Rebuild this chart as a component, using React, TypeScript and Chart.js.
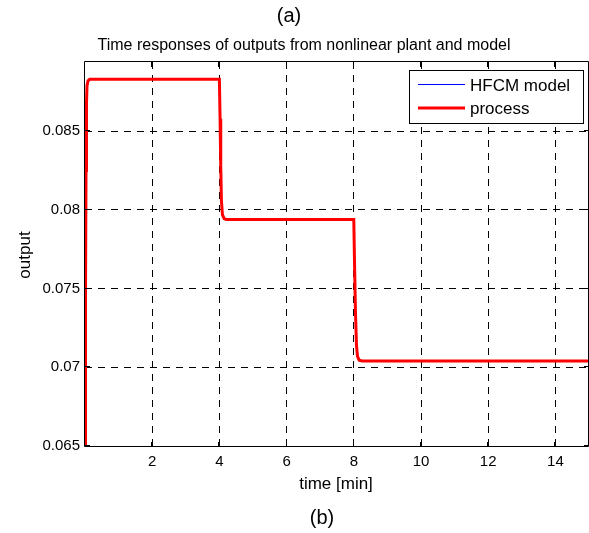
import React, { useEffect, useRef } from "react";
import { Chart, registerables } from "chart.js";

Chart.register(...registerables);

const timeMin = [0, 0.015, 0.03, 0.045, 0.06, 0.09, 0.14, 4.0, 4.02, 4.04, 4.06, 4.09, 4.14, 4.2, 8.0, 8.02, 8.05, 8.08, 8.11, 8.16, 8.25, 15];
const processOut = [0.065, 0.0745, 0.0825, 0.0868, 0.0879, 0.0882, 0.0883, 0.0883, 0.0858, 0.0828, 0.0806, 0.0797, 0.07945, 0.0794, 0.0794, 0.0768, 0.0735, 0.0714, 0.0707, 0.07045, 0.0704, 0.0704];
const modelOut = [0.065, 0.0745, 0.0825, 0.0868, 0.0879, 0.0882, 0.0883, 0.0883, 0.0858, 0.0828, 0.0806, 0.0797, 0.07945, 0.0794, 0.0794, 0.0768, 0.0735, 0.0714, 0.0707, 0.07045, 0.0704, 0.0704];
const xTicks = [2, 4, 6, 8, 10, 12, 14];
const yTicks = [0.065, 0.07, 0.075, 0.08, 0.085];
const seriesNames = ["HFCM model", "process"];

const FONT = "'Liberation Sans', Arial, sans-serif";

const decor = {
  id: "decor",
  afterDraw(chart: any) {
    const { ctx, chartArea } = chart;
    const { left, right, top, bottom } = chartArea;
    const xs = chart.scales.x;
    const ys = chart.scales.y;
    ctx.save();
    // frame
    ctx.strokeStyle = "#000";
    ctx.lineWidth = 1;
    ctx.setLineDash([]);
    ctx.beginPath();
    ctx.rect(Math.round(left) - 0.5, Math.round(top) - 0.5, Math.round(right - left), Math.round(bottom - top));
    ctx.stroke();
    // inward ticks
    const tl = 5;
    ctx.beginPath();
    xTicks.forEach((v) => {
      const px = Math.round(xs.getPixelForValue(v)) - 0.5;
      ctx.moveTo(px, bottom);
      ctx.lineTo(px, bottom - tl);
      ctx.moveTo(px, top);
      ctx.lineTo(px, top + tl);
    });
    yTicks.forEach((v) => {
      const py = Math.round(ys.getPixelForValue(v)) - 0.5;
      ctx.moveTo(left, py);
      ctx.lineTo(left + tl, py);
      ctx.moveTo(right, py);
      ctx.lineTo(right - tl, py);
    });
    ctx.stroke();

    // texts
    ctx.fillStyle = "#000";
    ctx.textAlign = "center";
    ctx.textBaseline = "middle";
    ctx.font = `20px ${FONT}`;
    ctx.fillText("(a)", 289, 16);
    ctx.font = `16px ${FONT}`;
    ctx.fillText("Time responses of outputs from nonlinear plant and model", 304, 46);
    ctx.font = `17px ${FONT}`;
    ctx.fillText("time [min]", 336, 484);
    ctx.font = `20px ${FONT}`;
    ctx.fillText("(b)", 322, 518);
    ctx.save();
    ctx.translate(25, 255);
    ctx.rotate(-Math.PI / 2);
    ctx.font = `17px ${FONT}`;
    ctx.fillText("output", 0, 0);
    ctx.restore();

    // legend
    const lx = 409, ly = 70, lw = 174, lh = 53;
    ctx.fillStyle = "#fff";
    ctx.fillRect(lx, ly, lw, lh);
    ctx.strokeStyle = "#000";
    ctx.lineWidth = 1;
    ctx.strokeRect(lx + 0.5, ly + 0.5, lw, lh);
    const colors = ["#0000ff", "#ff0000"];
    const widths = [1, 3];
    const rowsY = [84.5, 108];
    seriesNames.forEach((name, i) => {
      ctx.strokeStyle = colors[i];
      ctx.lineWidth = widths[i];
      ctx.beginPath();
      ctx.moveTo(418, rowsY[i]);
      ctx.lineTo(465, rowsY[i]);
      ctx.stroke();
      ctx.fillStyle = "#000";
      ctx.textAlign = "left";
      ctx.font = `17px ${FONT}`;
      ctx.fillText(name, 470, Math.round(rowsY[i]) + 1);
    });
    ctx.restore();
  },
};

export default function App() {
  const ref = useRef<HTMLCanvasElement | null>(null);
  useEffect(() => {
    document.body.style.margin = "0";
    const canvas = ref.current!;
    const chart = new Chart(canvas, {
      type: "line",
      data: {
        datasets: [
          {
            label: seriesNames[0],
            data: timeMin.map((t, i) => ({ x: t, y: modelOut[i] })),
            borderColor: "#0000ff",
            borderWidth: 1,
            pointRadius: 0,
            tension: 0,
            order: 1,
          },
          {
            label: seriesNames[1],
            data: timeMin.map((t, i) => ({ x: t, y: processOut[i] })),
            borderColor: "#ff0000",
            borderWidth: 3,
            pointRadius: 0,
            tension: 0,
            order: 0,
          },
        ],
      },
      options: {
        animation: false,
        responsive: false,
        maintainAspectRatio: false,
        layout: { padding: { top: 62, left: 0, right: 0, bottom: 0 } },
        plugins: { legend: { display: false }, tooltip: { enabled: false }, title: { display: false } },
        scales: {
          x: {
            type: "linear",
            min: 0,
            max: 15,
            afterBuildTicks: (s: any) => {
              s.ticks = xTicks.map((v) => ({ value: v }));
            },
            afterFit: (s: any) => {
              s.height = 86;
            },
            grid: { color: "#000", lineWidth: 1, drawTicks: false },
            border: { display: false, dash: [7, 6] },
            ticks: { color: "#000", font: { family: FONT, size: 15 }, padding: 6, maxRotation: 0, autoSkip: false },
          },
          y: {
            type: "linear",
            min: 0.06494,
            max: 0.0894,
            afterBuildTicks: (s: any) => {
              s.ticks = yTicks.map((v) => ({ value: v }));
            },
            afterFit: (s: any) => {
              s.width = 85;
            },
            grid: { color: "#000", lineWidth: 1, drawTicks: false },
            border: { display: false, dash: [7, 6] },
            ticks: {
              color: "#000",
              font: { family: FONT, size: 15 },
              padding: 5,
              autoSkip: false,
              callback: (v: any) => String(Number(v)),
            },
          },
        },
      },
      plugins: [decor],
    });
    return () => chart.destroy();
  }, []);
  return <canvas ref={ref} width={589} height={533} style={{ display: "block" }} />;
}
